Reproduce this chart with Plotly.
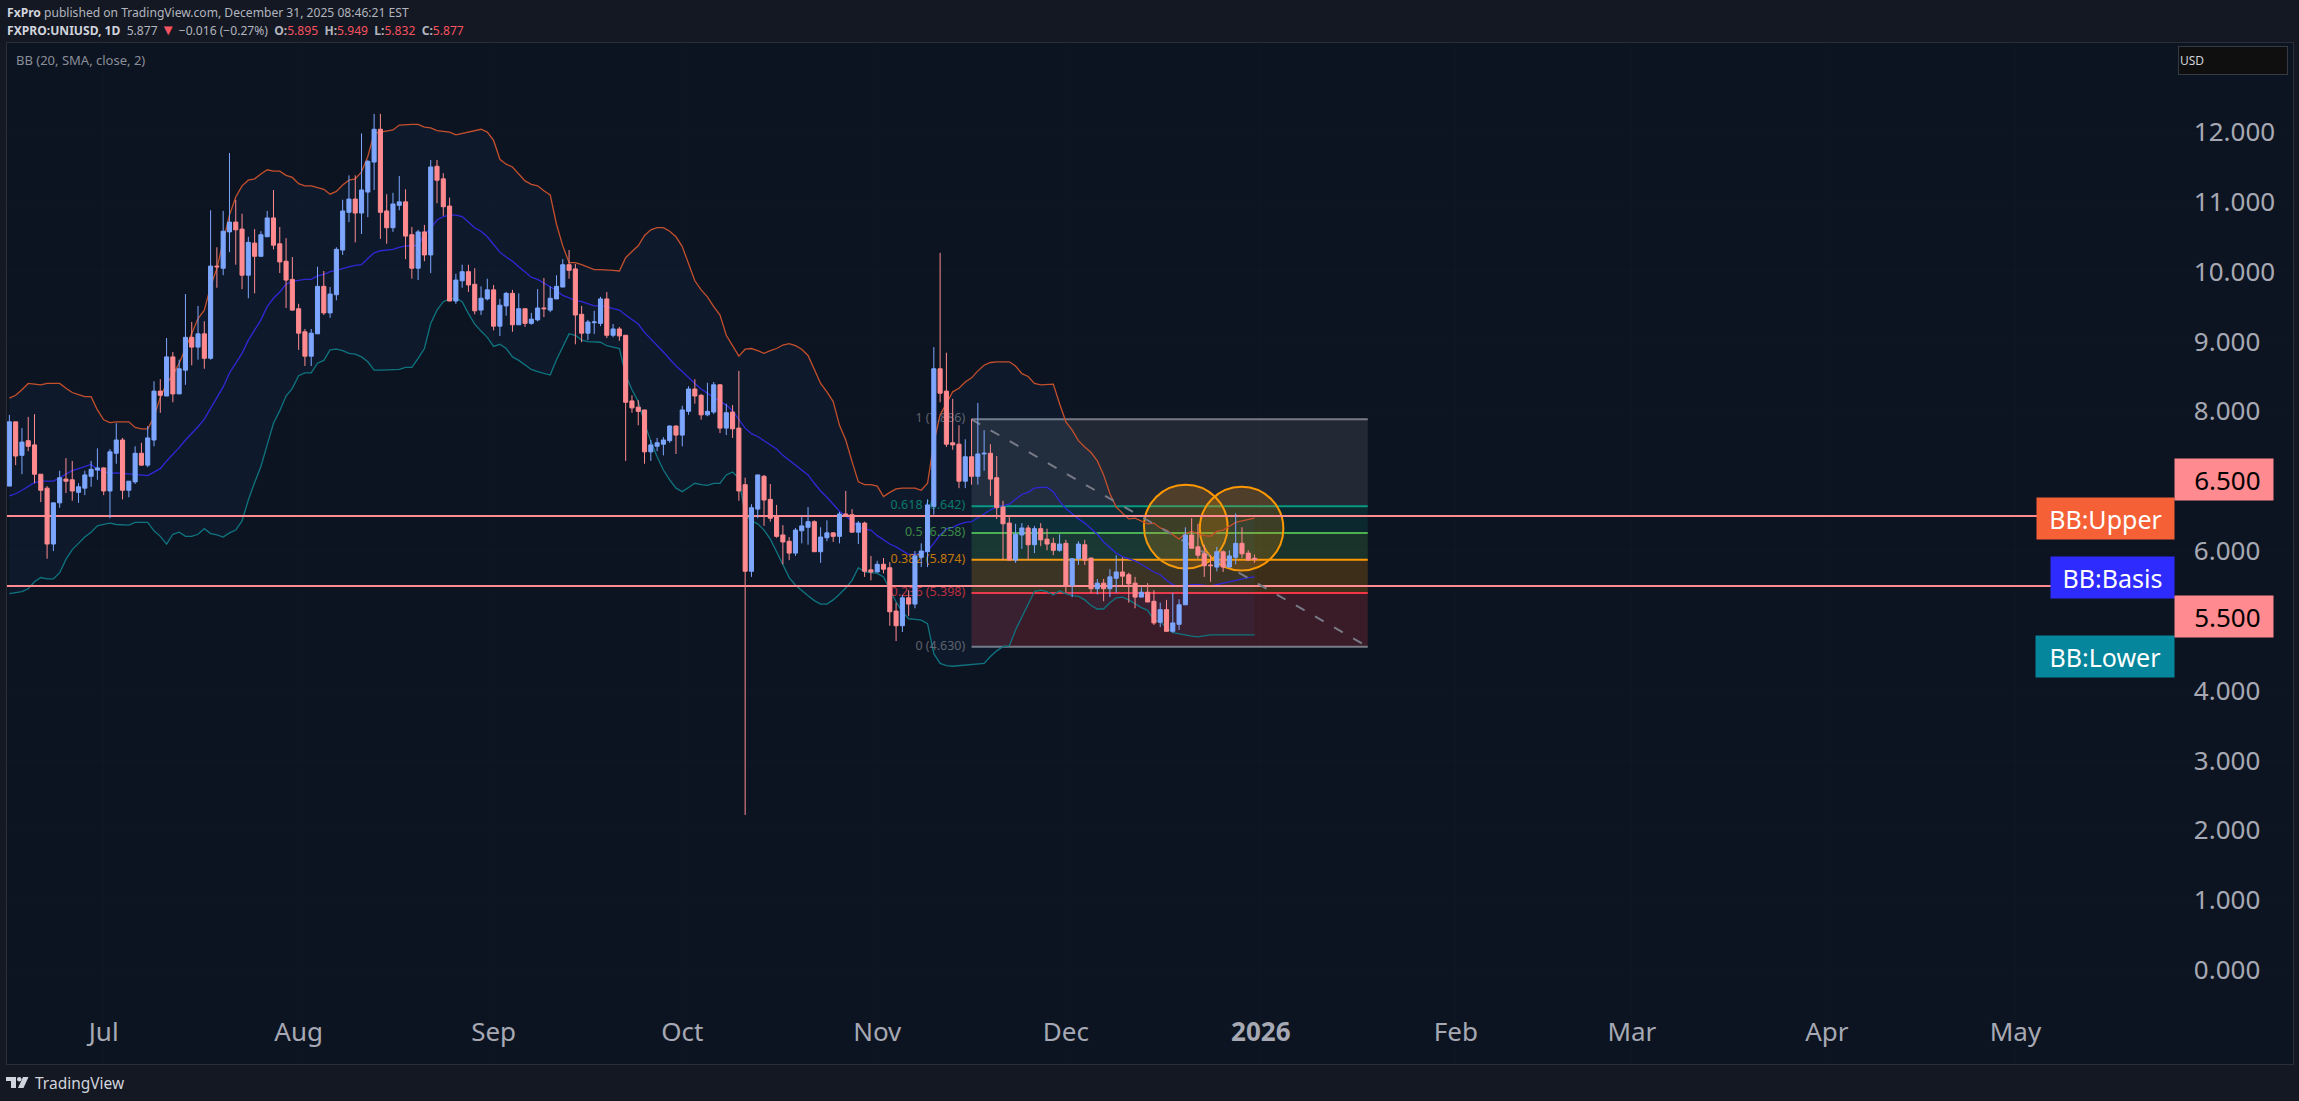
import pandas as pd
import plotly.graph_objects as go

# daily candles, FXPRO:UNIUSD
opens = [6.93,7.85,7.37,7.58,7.52,7.10,6.90,6.10,6.69,7.03,
 7.02,6.84,6.90,7.07,7.16,7.19,6.86,7.40,7.59,6.87,
 6.99,7.40,7.23,7.59,8.29,8.22,8.78,8.25,8.59,9.06,
 8.92,9.11,8.76,10.08,10.05,10.57,10.71,10.61,9.95,10.41,
 10.22,10.50,10.77,10.40,10.15,9.89,9.47,9.14,8.79,9.11,
 9.79,9.41,9.67,10.31,10.85,11.04,10.84,11.14,11.57,12.04,
 10.87,10.63,10.95,11.00,10.53,10.05,10.57,10.24,11.51,11.33,
 10.94,9.58,9.87,10.00,9.82,9.45,9.61,9.74,9.22,9.51,
 9.69,9.24,9.47,9.26,9.31,9.48,9.45,9.61,9.78,10.10,
 10.04,9.39,9.12,9.27,9.26,9.61,9.09,9.18,9.09,8.15,
 8.06,8.02,7.42,7.50,7.53,7.58,7.79,7.66,8.00,8.32,
 8.23,7.95,7.99,8.38,7.76,7.99,7.76,6.95,5.71,6.60,
 7.07,6.74,6.50,6.23,6.14,5.97,6.29,6.34,6.42,5.99,
 6.19,6.26,6.21,6.53,6.52,6.27,6.40,5.73,5.70,5.81,
 5.76,5.14,4.93,5.33,5.24,5.91,5.99,6.64,8.61,8.29,
 7.55,7.53,7.00,7.35,7.07,7.39,7.40,7.05,6.63,6.40,
 5.87,6.23,6.33,6.09,6.32,6.17,6.11,6.01,6.11,5.51,
 5.89,6.09,5.90,5.46,5.54,5.46,5.61,5.70,5.66,5.54,
 5.34,5.41,5.28,4.98,5.16,4.85,4.95,5.23,6.23,6.06,
 5.96,5.80,5.77,5.99,5.77,5.91,6.11,5.97,5.895]
highs = [7.95,7.85,7.76,7.92,7.96,7.10,6.93,6.69,7.15,7.33,
 7.29,6.97,7.15,7.29,7.47,7.20,7.46,7.83,7.62,7.00,
 7.50,7.55,7.79,8.43,8.46,9.05,8.85,8.74,9.68,9.28,
 9.51,9.29,10.88,10.35,10.87,11.70,11.03,10.83,10.50,10.61,
 10.58,10.87,11.17,10.64,10.48,10.21,9.54,9.18,9.18,10.07,
 10.01,9.78,10.35,11.03,11.38,11.38,11.98,11.60,12.26,12.26,
 11.11,11.13,11.37,11.18,10.64,10.60,10.67,11.60,11.60,11.41,
 11.06,9.97,10.10,10.10,10.05,9.79,9.90,9.81,9.61,9.71,
 9.74,9.69,9.47,9.41,9.75,9.91,9.79,9.95,10.18,10.31,
 10.11,9.51,9.31,9.44,9.64,9.71,9.25,9.21,9.09,8.23,
 8.16,8.02,7.59,7.62,7.63,7.80,7.80,8.08,8.36,8.46,
 8.25,8.41,8.42,8.39,8.11,8.09,8.58,7.05,6.67,7.09,
 7.09,6.96,6.66,6.37,6.20,6.33,6.50,6.63,6.44,6.34,
 6.44,6.27,6.56,6.86,6.60,6.43,6.42,5.93,5.86,5.90,
 5.84,5.26,5.37,5.44,6.00,6.11,6.74,8.92,10.27,8.84,
 8.18,7.80,7.60,7.89,8.12,7.73,7.53,7.36,6.72,6.50,
 6.39,6.40,6.37,6.36,6.40,6.32,6.19,6.24,6.16,5.89,
 6.14,6.16,5.90,5.60,5.60,5.74,5.94,5.91,5.69,5.63,
 5.48,5.54,5.44,5.26,5.30,5.40,5.31,6.34,6.47,6.39,
 6.09,5.94,6.06,6.01,6.01,6.54,6.34,6.01,5.949]
lows = [6.93,7.23,7.10,7.43,6.97,6.70,5.89,6.00,6.62,6.83,
 6.72,6.69,6.80,6.92,7.02,6.80,6.47,7.25,6.74,6.77,
 6.96,7.22,7.20,7.50,7.98,8.22,8.13,8.25,8.38,8.66,
 8.74,8.61,8.74,9.77,9.95,10.28,10.10,9.75,9.62,9.69,
 10.22,10.50,10.32,9.98,9.48,9.44,8.88,8.65,8.65,9.11,
 9.38,9.34,9.59,10.24,10.71,10.42,10.54,10.78,11.17,10.47,
 10.40,10.57,10.88,10.18,9.90,9.88,10.15,9.98,10.98,10.80,
 9.58,9.54,9.77,9.71,9.39,9.38,9.59,9.16,9.08,9.37,
 9.14,9.24,9.21,9.24,9.29,9.35,9.42,9.61,9.78,9.90,
 8.96,8.99,9.02,9.11,9.22,9.05,9.06,9.01,7.29,7.98,
 7.80,7.25,7.29,7.43,7.37,7.55,7.39,7.50,7.95,8.11,
 7.88,7.93,7.96,7.69,7.66,7.62,6.72,2.22,5.63,6.47,
 6.36,6.42,6.19,5.81,5.87,5.93,6.11,6.09,5.99,5.83,
 6.14,6.13,6.11,6.50,6.27,6.10,5.63,5.58,5.70,5.68,
 4.93,4.71,4.84,5.07,5.18,5.77,5.77,6.52,8.13,7.49,
 7.45,6.90,6.90,6.95,6.95,7.15,6.79,6.46,5.87,5.87,
 5.83,6.03,5.87,5.97,6.07,6.01,5.94,5.99,5.41,5.34,
 5.80,5.80,5.40,5.38,5.28,5.34,5.40,5.51,5.26,5.18,
 5.34,5.27,4.94,4.91,4.85,4.83,4.87,5.23,6.04,5.89,
 5.63,5.56,5.71,5.70,5.77,5.81,5.90,5.87,5.832]
closes = [7.85,7.36,7.56,7.50,7.10,6.87,6.10,6.69,7.05,7.00,
 6.86,6.92,7.09,7.17,7.19,6.86,7.42,7.59,6.87,7.00,
 7.40,7.23,7.62,8.29,8.23,8.78,8.25,8.61,9.06,8.92,
 9.11,8.76,10.08,10.07,10.58,10.71,10.60,9.95,10.42,10.22,
 10.53,10.77,10.38,10.14,9.88,9.45,9.12,8.79,9.12,9.79,
 9.41,9.68,10.32,10.87,11.04,10.84,11.17,11.58,12.04,10.85,
 10.63,10.97,11.00,10.51,10.05,10.57,10.24,11.50,11.31,10.93,
 9.58,9.88,10.00,9.81,9.44,9.62,9.74,9.22,9.52,9.69,
 9.24,9.47,9.26,9.32,9.48,9.47,9.62,9.79,10.10,10.02,
 9.38,9.12,9.28,9.28,9.61,9.09,9.18,9.08,8.13,8.05,
 8.00,7.42,7.52,7.55,7.59,7.79,7.66,8.02,8.32,8.22,
 7.95,8.00,8.38,7.76,7.98,7.75,6.86,5.71,6.62,7.09,
 6.73,6.47,6.21,6.13,5.97,6.30,6.36,6.42,5.99,6.20,
 6.26,6.21,6.53,6.50,6.27,6.40,5.71,5.70,5.81,5.74,
 5.13,4.93,5.33,5.24,5.93,6.00,6.66,8.61,8.26,7.53,
 7.52,7.00,7.35,7.07,7.39,7.40,7.03,6.62,6.39,5.87,
 6.24,6.33,6.09,6.32,6.16,6.10,6.01,6.10,5.50,5.89,
 6.10,5.87,5.46,5.54,5.46,5.63,5.70,5.64,5.53,5.34,
 5.41,5.27,4.97,5.16,4.85,4.97,5.23,6.23,6.04,5.94,
 5.79,5.79,5.99,5.77,5.93,6.11,5.96,5.87,5.877]

# bollinger bands, one value per bar
bb_upper = [8.19,8.23,8.31,8.40,8.39,8.38,8.40,8.40,8.40,8.33,
 8.27,8.24,8.21,8.21,8.02,7.88,7.84,7.85,7.85,7.85,
 7.77,7.75,7.75,7.92,8.20,8.40,8.52,8.69,8.90,9.12,
 9.33,9.45,9.79,10.05,10.43,10.81,11.07,11.23,11.31,11.33,
 11.40,11.46,11.44,11.44,11.38,11.35,11.26,11.23,11.23,11.20,
 11.18,11.11,11.15,11.24,11.31,11.33,11.43,11.65,11.98,12.00,
 12.01,12.03,12.10,12.11,12.11,12.11,12.07,12.06,12.02,12.01,
 12.00,11.96,11.98,12.00,12.03,12.04,12.00,11.88,11.61,11.54,
 11.50,11.40,11.30,11.25,11.23,11.16,11.10,10.68,10.37,10.13,
 10.13,10.10,10.06,10.03,10.03,10.03,10.02,10.01,10.20,10.29,
 10.37,10.52,10.60,10.63,10.63,10.58,10.50,10.36,10.12,9.87,
 9.74,9.64,9.50,9.38,9.09,8.93,8.79,8.89,8.90,8.87,
 8.83,8.87,8.90,8.95,8.97,8.94,8.89,8.80,8.60,8.40,
 8.28,8.14,7.80,7.59,7.28,6.99,6.95,6.95,6.93,6.78,
 6.84,6.89,6.90,6.90,6.90,6.87,6.97,7.55,7.95,8.11,
 8.28,8.33,8.42,8.48,8.58,8.66,8.70,8.71,8.71,8.71,
 8.65,8.54,8.50,8.40,8.38,8.38,8.39,8.11,7.85,7.73,
 7.58,7.49,7.41,7.29,7.09,6.82,6.63,6.54,6.46,6.47,
 6.43,6.39,6.40,6.33,6.30,6.23,6.17,6.25,6.28,6.25,
 6.22,6.21,6.28,6.30,6.36,6.41,6.43,6.45,6.47]
bb_basis = [6.79,6.82,6.87,6.93,6.98,7.00,7.00,7.00,7.05,7.10,
 7.15,7.18,7.21,7.24,7.17,7.14,7.11,7.12,7.11,7.11,
 7.09,7.08,7.08,7.13,7.18,7.29,7.38,7.48,7.59,7.68,
 7.78,7.89,8.04,8.18,8.35,8.55,8.70,8.83,9.02,9.16,
 9.31,9.50,9.62,9.71,9.82,9.86,9.88,9.89,9.89,9.94,
 9.96,10.00,10.02,10.05,10.07,10.09,10.10,10.19,10.27,10.30,
 10.31,10.32,10.35,10.37,10.37,10.38,10.53,10.62,10.74,10.79,
 10.81,10.81,10.79,10.71,10.63,10.58,10.50,10.39,10.28,10.21,
 10.15,10.07,9.99,9.92,9.89,9.84,9.79,9.73,9.66,9.62,
 9.59,9.57,9.54,9.51,9.51,9.50,9.47,9.45,9.38,9.32,
 9.25,9.13,9.04,8.94,8.85,8.75,8.65,8.57,8.48,8.40,
 8.32,8.26,8.19,8.14,8.09,8.01,7.88,7.76,7.68,7.64,
 7.58,7.52,7.46,7.37,7.30,7.22,7.16,7.09,6.97,6.86,
 6.77,6.67,6.57,6.50,6.43,6.35,6.31,6.30,6.22,6.16,
 6.10,6.06,6.00,5.95,5.95,5.98,6.00,6.11,6.23,6.32,
 6.34,6.38,6.41,6.42,6.47,6.53,6.59,6.63,6.65,6.67,
 6.74,6.81,6.84,6.90,6.91,6.91,6.85,6.71,6.61,6.53,
 6.46,6.40,6.32,6.24,6.13,6.05,5.97,5.92,5.89,5.86,
 5.81,5.75,5.70,5.66,5.58,5.52,5.49,5.50,5.52,5.52,
 5.51,5.50,5.52,5.54,5.56,5.58,5.61,5.62,5.63]
bb_lower = [5.39,5.40,5.42,5.46,5.56,5.62,5.60,5.60,5.69,5.88,
 6.02,6.11,6.20,6.27,6.36,6.38,6.40,6.38,6.37,6.37,
 6.41,6.41,6.41,6.29,6.21,6.10,6.24,6.27,6.21,6.21,
 6.24,6.32,6.25,6.23,6.20,6.26,6.30,6.43,6.73,6.98,
 7.21,7.52,7.83,8.01,8.22,8.33,8.51,8.55,8.55,8.69,
 8.73,8.88,8.89,8.87,8.83,8.82,8.78,8.71,8.59,8.59,
 8.59,8.59,8.60,8.63,8.63,8.76,8.90,9.26,9.45,9.57,
 9.61,9.62,9.57,9.40,9.25,9.15,9.06,8.93,8.96,8.90,
 8.78,8.73,8.67,8.60,8.57,8.54,8.52,8.74,8.93,9.11,
 9.09,9.02,9.00,8.99,8.99,8.94,8.92,8.90,8.52,8.31,
 8.14,7.83,7.57,7.35,7.16,7.02,6.90,6.85,6.91,6.97,
 6.95,6.94,6.97,6.97,7.09,7.13,7.04,6.52,6.43,6.39,
 6.30,6.17,5.99,5.81,5.62,5.51,5.43,5.36,5.29,5.24,
 5.24,5.30,5.38,5.47,5.58,5.76,5.70,5.69,5.68,5.63,
 5.44,5.27,5.13,5.03,5.02,5.01,4.96,4.53,4.39,4.36,
 4.35,4.36,4.36,4.37,4.38,4.39,4.49,4.57,4.63,4.64,
 4.87,5.06,5.23,5.42,5.44,5.42,5.37,5.43,5.39,5.36,
 5.35,5.30,5.22,5.17,5.17,5.26,5.33,5.34,5.30,5.24,
 5.19,5.15,5.01,4.99,4.90,4.83,4.81,4.80,4.78,4.77,
 4.79,4.80,4.80,4.80,4.80,4.79,4.79,4.79,4.80]

dates = pd.date_range("2025-06-16", periods=len(closes))

fib_ratios = ["1", "0.618", "0.5", "0.382", "0.236", "0"]
fib_prices = [7.886, 6.642, 6.258, 5.874, 5.398, 4.630]
fib_colors = ["#787b86", "#089981", "#4caf50", "#ff9800", "#f23645", "#787b86"]
fib_fills = ["rgba(120,123,134,0.2)", "rgba(8,153,129,0.15)", "rgba(76,175,80,0.2)",
             "rgba(255,152,0,0.2)", "rgba(242,54,69,0.2)"]
fib_start, fib_end = "2025-11-16", "2026-01-18"

trend_x = [fib_start, fib_end]
trend_y = [7.886, 4.63]

hline_prices = [6.5, 5.5]
hline_ends = ["2026-05-06", "2026-05-10"]

y_ticks = [12, 11, 10, 9, 8, 6, 4, 3, 2, 1, 0]
y_labels = ["12.000", "11.000", "10.000", "9.000\u2007", "8.000\u2007", "6.000\u2007",
            "4.000\u2007", "3.000\u2007", "2.000\u2007", "1.000\u2007", "0.000\u2007"]
x_ticks = ["2025-07-01", "2025-08-01", "2025-09-01", "2025-10-01", "2025-11-01", "2025-12-01",
           "2026-01-01", "2026-02-01", "2026-03-01", "2026-04-01", "2026-05-01"]
x_labels = ["Jul", "Aug", "Sep", "Oct", "Nov", "Dec", "<b>2026</b>", "Feb", "Mar", "Apr", "May"]

FONT = "Noto Sans"
W, H = 2299, 1101
LEFT, RIGHT, TOP, BOTTOM = 7, 2292.7, 43, 1064
Y_RANGE = [(970 - BOTTOM) / 69.83, (970 - TOP) / 69.83]


def xp(px):
    return (px - LEFT) / (RIGHT - LEFT)


def yp(py):
    return (BOTTOM - py) / (BOTTOM - TOP)


fig = go.Figure()

fig.add_trace(go.Scatter(x=dates, y=bb_upper, mode="lines", line=dict(color="#c44f2c", width=1.3)))
fig.add_trace(go.Scatter(x=dates, y=bb_lower, mode="lines", line=dict(color="#0f7480", width=1.3),
                         fill="tonexty", fillcolor="rgba(33,150,243,0.05)"))
fig.add_trace(go.Scatter(x=dates, y=bb_basis, mode="lines", line=dict(color="#3028d8", width=1.3)))

for price, end in zip(hline_prices, hline_ends):
    fig.add_trace(go.Scatter(x=["2025-06-01", end], y=[price, price], mode="lines",
                             line=dict(color="#ff8a8f", width=2)))

fig.add_trace(go.Scatter(x=trend_x, y=trend_y, mode="lines",
                         line=dict(color="#787b86", width=2, dash="10px,12px")))

# fib labels sit in the lower subplot so candles cover them, like the original
for ratio, price, color in zip(fib_ratios, fib_prices, fib_colors):
    fig.add_trace(go.Scatter(x=["2025-11-15"], y=[price], mode="text",
                             text=[f"{ratio} ({price:.3f})"], textposition="middle left",
                             textfont=dict(family=FONT, size=12.5, color=color), opacity=0.75))

fig.add_trace(go.Candlestick(x=dates, open=opens, high=highs, low=lows, close=closes, yaxis="y2",
                             increasing=dict(line=dict(color="#7da6ff", width=1), fillcolor="#7da6ff"),
                             decreasing=dict(line=dict(color="#ff8a8f", width=1), fillcolor="#ff8a8f"),
                             whiskerwidth=0))

for i, fill in enumerate(fib_fills):
    fig.add_shape(type="rect", x0=fib_start, x1=fib_end, y0=fib_prices[i + 1], y1=fib_prices[i],
                  fillcolor=fill, line_width=0, layer="below")
for price, color in zip(fib_prices, fib_colors):
    fig.add_shape(type="line", x0=fib_start, x1=fib_end, y0=price, y1=price,
                  line=dict(color=color, width=2), layer="below")

for x0, x1, y0, y1 in [("2025-12-13 10:00", "2025-12-26 17:00", 5.75, 6.95),
                       ("2025-12-22 07:00", "2026-01-04 14:00", 5.72, 6.92)]:
    fig.add_shape(type="circle", x0=x0, x1=x1, y0=y0, y1=y1, fillcolor="rgba(255,152,0,0.2)",
                  line=dict(color="#ff9800", width=2), layer="below")


def label(text, x0, x1, y0, y1, bg, color="#ffffff", size=25):
    fig.add_annotation(text=text, xref="paper", yref="paper", x=xp((x0 + x1) / 2), y=yp((y0 + y1) / 2),
                       xanchor="center", yanchor="middle", width=x1 - x0, height=y1 - y0, showarrow=False,
                       bgcolor=bg, borderpad=0, align="center", valign="middle",
                       font=dict(family=FONT, size=size, color=color))


label("BB:Upper", 2037, 2174, 498, 539, "#f56036")
label("BB:Basis", 2051, 2174, 557, 598, "#2e2bff")
label("BB:Lower", 2036, 2174, 636, 677, "#05869c")
label("&nbsp;6.500", 2175, 2273, 459, 500, "#ff8a8f", color="#000000", size=26)
label("&nbsp;5.500", 2175, 2273, 596, 637, "#ff8a8f", color="#000000", size=26)


def text_at(text, px, py, size, color="#b2b5be", anchor="left"):
    fig.add_annotation(text=text, xref="paper", yref="paper", x=xp(px), y=yp(py), xanchor=anchor,
                       yanchor="middle", showarrow=False, align="left",
                       font=dict(family=FONT, size=size, color=color))


RED = "#f7525f"
text_at('<b style="color:#d1d4dc">FxPro</b> published on TradingView.com, December 31, 2025 08:46:21 EST',
        5, 12.5, 12.1)
text_at('<b style="color:#d1d4dc">FXPRO:UNIUSD, 1D</b>&nbsp;&nbsp;5.877 '
        f'<span style="color:{RED};font-size:15px">▼</span> −0.016 (−0.27%)&nbsp; '
        f'<b>O:</b><span style="color:{RED}">5.895</span>&nbsp; <b>H:</b><span style="color:{RED}">5.949</span>&nbsp; '
        f'<b>L:</b><span style="color:{RED}">5.832</span>&nbsp; <b>C:</b><span style="color:{RED}">5.877</span>',
        5, 29.5, 12.1)
text_at("BB (20, SMA, close, 2)", 14, 60.5, 13, color="#8a8e99")
text_at("TradingView", 33, 1083, 15.5, color="#d1d4dc")

fig.add_annotation(text="USD", xref="paper", yref="paper", x=xp(2233), y=yp(60.5), xanchor="center",
                   yanchor="middle", width=106, height=25, showarrow=False, align="left",
                   bgcolor="#0f0f0f", bordercolor="#363a45", borderwidth=1, borderpad=1,
                   font=dict(family=FONT, size=12, color="#d1d4dc"))

# TradingView mark
logo = [
    [(6, 1077), (16, 1077), (16, 1088), (11, 1088), (11, 1081), (6, 1081)],
    [(23, 1077), (28.5, 1077), (23.5, 1088), (18, 1088)],
]
for pts in logo:
    path = "M " + " L ".join(f"{xp(px):.5f} {yp(py):.5f}" for px, py in pts) + " Z"
    fig.add_shape(type="path", path=path, xref="paper", yref="paper", fillcolor="#d1d4dc", line_width=0)
fig.add_shape(type="circle", xref="paper", yref="paper", x0=xp(17), x1=xp(21.5), y0=yp(1081.5), y1=yp(1077),
              fillcolor="#d1d4dc", line_width=0)

fig.update_layout(
    width=W, height=H,
    margin=dict(l=LEFT, r=W - RIGHT, t=TOP, b=H - BOTTOM, pad=0),
    paper_bgcolor="#141823", plot_bgcolor="#0d1421",
    showlegend=False, boxgap=0.35, boxgroupgap=0, hovermode=False,
    xaxis=dict(type="date", range=["2025-06-15 15:00", "2026-06-14 03:00"], rangeslider_visible=False,
               tickmode="array", tickvals=x_ticks, ticktext=x_labels, ticklabelposition="inside",
               ticks="", ticklabelstandoff=20, tickfont=dict(family=FONT, size=26, color="#a6a9b3"),
               showgrid=True, gridcolor="rgba(255,255,255,0.012)", zeroline=False,
               showline=True, linecolor="#2a2e39", linewidth=1, mirror=True),
    yaxis=dict(range=Y_RANGE, side="right", tickmode="array", tickvals=y_ticks,
               ticktext=y_labels, ticklabelposition="inside", ticks="",
               ticklabelstandoff=20, tickfont=dict(family=FONT, size=26, color="#a6a9b3"),
               showgrid=True, gridcolor="rgba(255,255,255,0.012)", zeroline=False,
               showline=True, linecolor="#2a2e39", linewidth=1, mirror=True),
    yaxis2=dict(range=Y_RANGE, overlaying="y", visible=False),
)

fig.write_html("out.html", config={"displayModeBar": False},
               post_script="document.body.style.margin='0';")
